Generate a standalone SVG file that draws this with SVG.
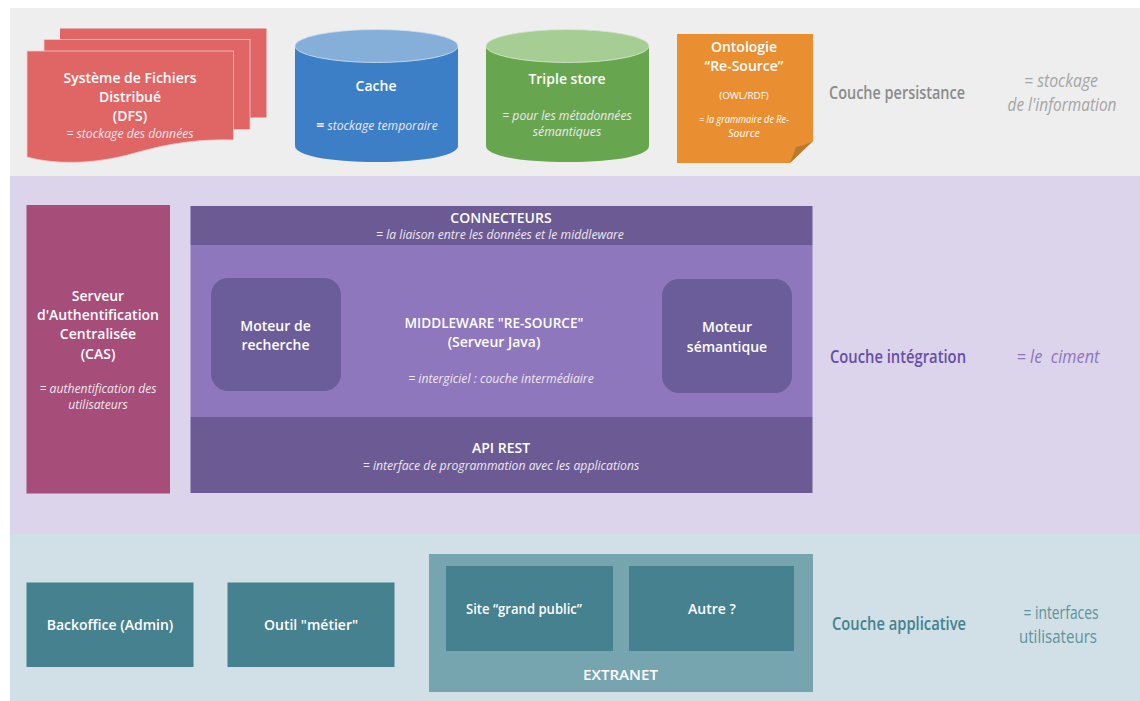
<svg xmlns="http://www.w3.org/2000/svg" width="1140" height="701" viewBox="0 0 1140 701">
<style>
text{font-family:"Open Sans","Noto Sans","Liberation Sans",sans-serif;text-anchor:middle;fill:#fff}
.b{font-weight:600;font-size:14px}
.i{font-style:italic;font-size:12.200px;fill:#efe6ee}
.side{font-weight:600;font-size:18px}
.note{font-size:18px}
</style>
<rect width="1140" height="701" fill="#fff"/>
<g id="bands">
<rect x="10" y="8" width="1130" height="168" fill="#eeeeee"/>
<rect x="10" y="176" width="1130" height="358" fill="#dcd4ea"/>
<rect x="10" y="534" width="1130" height="167" fill="#d0e0e6"/>
</g>
<g id="dfs">
<rect x="60" y="28.500" width="206.500" height="89" fill="#e06666"/>
<rect x="44" y="39.500" width="206" height="90" fill="#e06666" stroke="#f4c8c8" stroke-width="0.800"/>
<path d="M27 51H233.500V140C200 139 170 143 135 153C100 163 60 166 27 157Z" fill="#e06666" stroke="#f4c8c8" stroke-width="0.800"/>
<text class="b" x="130" y="83">Système de Fichiers</text>
<text class="b" x="130" y="102">Distribué</text>
<text class="b" x="130" y="121">(DFS)</text>
<text class="i" x="130" y="138">= stockage des données</text>
</g>
<g id="cache">
<path d="M295 46V146C295 155 327 162 377 162C426 162 458 155 458 146V46Z" fill="#3d7fc6"/>
<ellipse cx="376.500" cy="46" rx="81.500" ry="16.500" fill="#85afd9" stroke="#cfe2f3" stroke-width="0.800"/>
<text class="b" x="376" y="91">Cache</text>
<text class="i" x="377" y="130"><tspan font-style="normal" font-weight="700" font-size="14">=</tspan> stockage temporaire</text>
</g>
<g id="triple-store">
<path d="M486 46V146C486 155 516 162 567.500 162C619 162 649 155 649 146V46Z" fill="#67a64f"/>
<ellipse cx="567.500" cy="46" rx="81.500" ry="16.500" fill="#a6cd94" stroke="#d9ead3" stroke-width="0.800"/>
<text class="b" x="567" y="84">Triple store</text>
<text class="i" x="567" y="120">= pour les métadonnées</text>
<text class="i" x="567" y="136">sémantiques</text>
</g>
<g id="ontologie">
<path d="M677 34H813V141L790 163H677Z" fill="#e98f31"/>
<path d="M790 163L796 147C801 146 808 144 813 141Z" fill="#b87a30"/>
<text class="b" x="744" y="52">Ontologie</text>
<text class="b" x="744" y="71">“Re-Source”</text>
<text x="744" y="99" font-size="9.800">(OWL/RDF)</text>
<text class="i" x="744" y="123" textLength="90" lengthAdjust="spacingAndGlyphs" style="font-size:10.500px;fill:#fff">= la grammaire de Re-</text>
<text class="i" x="744" y="137" style="font-size:10.500px;fill:#fff">Source</text>
</g>
<g id="label-persistance">
<text class="side" x="897" y="99" style="fill:#8b8b8b" textLength="136" lengthAdjust="spacingAndGlyphs">Couche persistance</text>
<text class="note" x="1061" y="87" font-style="italic" style="fill:#a5a5a5" textLength="74" lengthAdjust="spacingAndGlyphs">= stockage</text>
<text class="note" x="1062" y="111" font-style="italic" style="fill:#a5a5a5" textLength="109" lengthAdjust="spacingAndGlyphs">de l'information</text>
</g>
<g id="cas">
<rect x="26.500" y="205" width="143.500" height="288.500" fill="#a64d79"/>
<text class="b" x="98" y="301">Serveur</text>
<text class="b" x="98" y="320">d'Authentification</text>
<text class="b" x="98" y="339">Centralisée</text>
<text class="b" x="98" y="359">(CAS)</text>
<text class="i" x="98" y="393">= authentification des</text>
<text class="i" x="98" y="409">utilisateurs</text>
</g>
<g id="middleware">
<rect x="190.500" y="245" width="622" height="172" fill="#8e77bd"/>
<text class="b" x="494" y="328" textLength="179" lengthAdjust="spacingAndGlyphs">MIDDLEWARE "RE-SOURCE"</text>
<text class="b" x="494" y="347">(Serveur Java)</text>
<text class="i" x="501" y="383">= intergiciel : couche intermédiaire</text>
</g>
<g id="connecteurs">
<rect x="190.500" y="206" width="622" height="39" fill="#6b5a93"/>
<text class="b" x="501" y="223">CONNECTEURS</text>
<text class="i" x="500" y="239">= la liaison entre les données et le middleware</text>
</g>
<g id="api-rest">
<rect x="190.500" y="417" width="622" height="76" fill="#6b5a93"/>
<text class="b" x="501" y="453">API REST</text>
<text class="i" x="501" y="469.500">= interface de programmation avec les applications</text>
</g>
<g id="moteur-recherche">
<rect x="211" y="278" width="130" height="113" rx="17" fill="#6b5d99"/>
<text class="b" x="275.500" y="331">Moteur de</text>
<text class="b" x="275.500" y="350">recherche</text>
</g>
<g id="moteur-semantique">
<rect x="662" y="279" width="130" height="114" rx="17" fill="#6b5d99"/>
<text class="b" x="727" y="332">Moteur</text>
<text class="b" x="727" y="352">sémantique</text>
</g>
<g id="label-integration">
<text class="side" x="898" y="363" style="fill:#674ea7" textLength="136" lengthAdjust="spacingAndGlyphs">Couche intégration</text>
<text class="note" x="1058" y="363" font-style="italic" style="fill:#8e77bd;white-space:pre" textLength="83" lengthAdjust="spacingAndGlyphs">= le  ciment</text>
</g>
<g id="backoffice">
<rect x="26.500" y="582.500" width="167" height="84.500" fill="#45818e"/>
<text class="b" x="110" y="630">Backoffice (Admin)</text>
</g>
<g id="outil-metier">
<rect x="227.500" y="582.500" width="167" height="84.500" fill="#45818e"/>
<text class="b" x="311" y="630">Outil "métier"</text>
</g>
<g id="extranet">
<rect x="429" y="554" width="384" height="138" fill="#76a5af"/>
<text class="b" x="620.500" y="680" textLength="75" lengthAdjust="spacingAndGlyphs">EXTRANET</text>
</g>
<g id="site-grand-public">
<rect x="446" y="566" width="167" height="85" fill="#45818e"/>
<text class="b" x="524" y="614" textLength="116" lengthAdjust="spacingAndGlyphs">Site “grand public”</text>
</g>
<g id="autre">
<rect x="629" y="566" width="165" height="85" fill="#45818e"/>
<text class="b" x="712" y="614">Autre ?</text>
</g>
<g id="label-applicative">
<text class="side" x="899" y="630" style="fill:#45818e" textLength="134" lengthAdjust="spacingAndGlyphs">Couche applicative</text>
<text class="note" x="1061" y="619" style="fill:#5f939e" textLength="75" lengthAdjust="spacingAndGlyphs">= interfaces</text>
<text class="note" x="1058" y="643" style="fill:#5f939e" textLength="78" lengthAdjust="spacingAndGlyphs">utilisateurs</text>
</g>
<g id="connectors"></g>
</svg>
